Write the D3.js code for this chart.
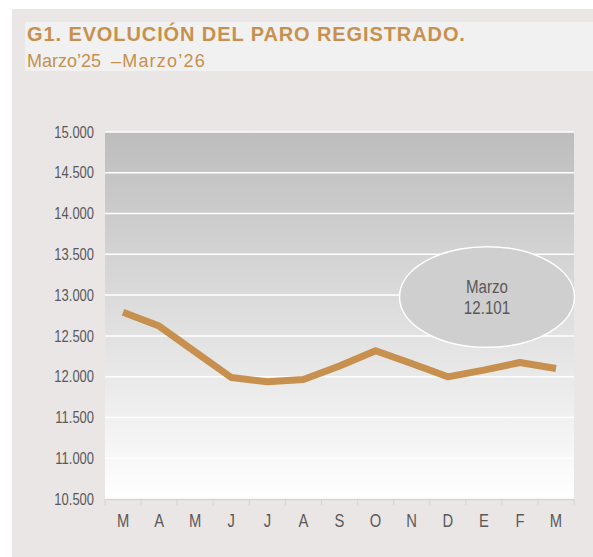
<!DOCTYPE html>
<html><head><meta charset="utf-8">
<script src="https://cdn.jsdelivr.net/npm/d3@7"></script>
<style>
html,body{margin:0;padding:0;background:#ffffff;}
svg{display:block;}
</style></head>
<body>
<svg id="chart" width="593" height="557"></svg>
<script>
const months = ["M","A","M","J","J","A","S","O","N","D","E","F","M"];
const paro = [12790, 12620, 12305, 11990, 11937, 11965, 12130, 12317, 12162, 11998, 12080, 12174, 12101];
const yTicks = [10500, 11000, 11500, 12000, 12500, 13000, 13500, 14000, 14500, 15000];
const titleText = "G1. EVOLUCIÓN DEL PARO REGISTRADO.";
const subtitleA = "Marzo’25";
const subtitleB = "–Marzo’26";
const calloutLabel = "Marzo";

const svg = d3.select("#chart");
const sans = "'Liberation Sans',Arial,sans-serif";
const gold = "#c8904e";
const grey = "#595959";
const fmt = v => d3.format(",")(v).replace(/,/g,".");

// condense text horizontally (narrow font look)
function condense(sel, k){
  sel.each(function(){
    const len = this.getComputedTextLength();
    d3.select(this).attr("textLength", len*k).attr("lengthAdjust","spacingAndGlyphs");
  });
}

// outer panel
svg.append("rect").attr("x",12).attr("y",9).attr("width",581).attr("height",548).attr("fill","#ebe6e6");
// title band
svg.append("rect").attr("x",25).attr("y",22).attr("width",568).attr("height",49).attr("fill","#f1f1f1");
svg.append("text").attr("x",27).attr("y",41).attr("font-family",sans).attr("font-weight","bold")
  .attr("font-size",20).attr("letter-spacing",0.9).attr("fill",gold).text(titleText);
svg.append("text").attr("x",27).attr("y",66.5).attr("font-family",sans)
  .attr("font-size",18).attr("fill",gold).text(subtitleA);
svg.append("text").attr("x",111).attr("y",66.5).attr("font-family",sans)
  .attr("font-size",18).attr("letter-spacing",1.2).attr("fill",gold).text(subtitleB);

const m = {left:105, right:574, top:132, bottom:499};
const x = d3.scaleBand().domain(d3.range(months.length)).range([m.left, m.right]).padding(0);
const y = d3.scaleLinear().domain([10500, 15000]).range([m.bottom, m.top]);

const defs = svg.append("defs");
const grad = defs.append("linearGradient").attr("id","bg").attr("x1",0).attr("y1",0).attr("x2",0).attr("y2",1);
grad.append("stop").attr("offset","0%").attr("stop-color","#bdbdbd");
grad.append("stop").attr("offset","100%").attr("stop-color","#ffffff");

svg.append("rect").attr("x",m.left).attr("y",m.top).attr("width",m.right-m.left).attr("height",m.bottom-m.top)
  .attr("fill","url(#bg)");

// gridlines
svg.append("g").selectAll("line").data(yTicks.filter(d=>d>10500)).join("line")
  .attr("x1",m.left).attr("x2",m.right).attr("y1",d=>y(d)).attr("y2",d=>y(d))
  .attr("stroke","#ffffff").attr("stroke-width",1.5);

// y axis labels
const yAxis = svg.append("g").attr("transform",`translate(${m.left},0)`)
  .call(d3.axisLeft(y).tickValues(yTicks).tickSize(0).tickPadding(11).tickFormat(fmt));
yAxis.select(".domain").remove();
yAxis.selectAll("text").attr("font-family",sans).attr("font-size",16).attr("fill",grey);
condense(yAxis.selectAll("text"), 0.81);

// x axis
const xAxis = svg.append("g").attr("transform",`translate(0,${m.bottom})`)
  .call(d3.axisBottom(x).tickSize(0).tickPadding(15).tickFormat(i=>months[i]));
xAxis.select(".domain").attr("stroke","#d6d6d6").attr("stroke-width",1.5);
xAxis.selectAll("text").attr("font-family",sans).attr("font-size",18).attr("fill",grey);
condense(xAxis.selectAll("text"), 0.82);
// boundary tick marks
const bounds = d3.range(months.length+1).map(i => i < months.length ? x(i) : x(months.length-1)+x.bandwidth());
xAxis.append("g").selectAll("line").data(bounds).join("line")
  .attr("x1",d=>d).attr("x2",d=>d).attr("y1",0).attr("y2",6)
  .attr("stroke","#d6d6d6").attr("stroke-width",1.2);

// line
const line = d3.line().x((d,i)=>x(i)+x.bandwidth()/2).y(d=>y(d));
svg.append("path").datum(paro).attr("d",line).attr("fill","none")
  .attr("stroke",gold).attr("stroke-width",7).attr("stroke-linejoin","round");

// callout ellipse
const last = paro.length-1;
svg.append("ellipse").attr("cx",487).attr("cy",297).attr("rx",87.5).attr("ry",50.3)
  .attr("fill","#cfcfcf").attr("stroke","#ffffff").attr("stroke-width",1.5);
const c1 = svg.append("text").attr("x",487).attr("y",292.5).attr("text-anchor","middle")
  .attr("font-family",sans).attr("font-size",18).attr("fill",grey).text(calloutLabel);
const c2 = svg.append("text").attr("x",487).attr("y",314).attr("text-anchor","middle")
  .attr("font-family",sans).attr("font-size",18).attr("fill",grey).text(fmt(paro[last]));
condense(c1, 0.84);
condense(c2, 0.84);
</script>
</body></html>
